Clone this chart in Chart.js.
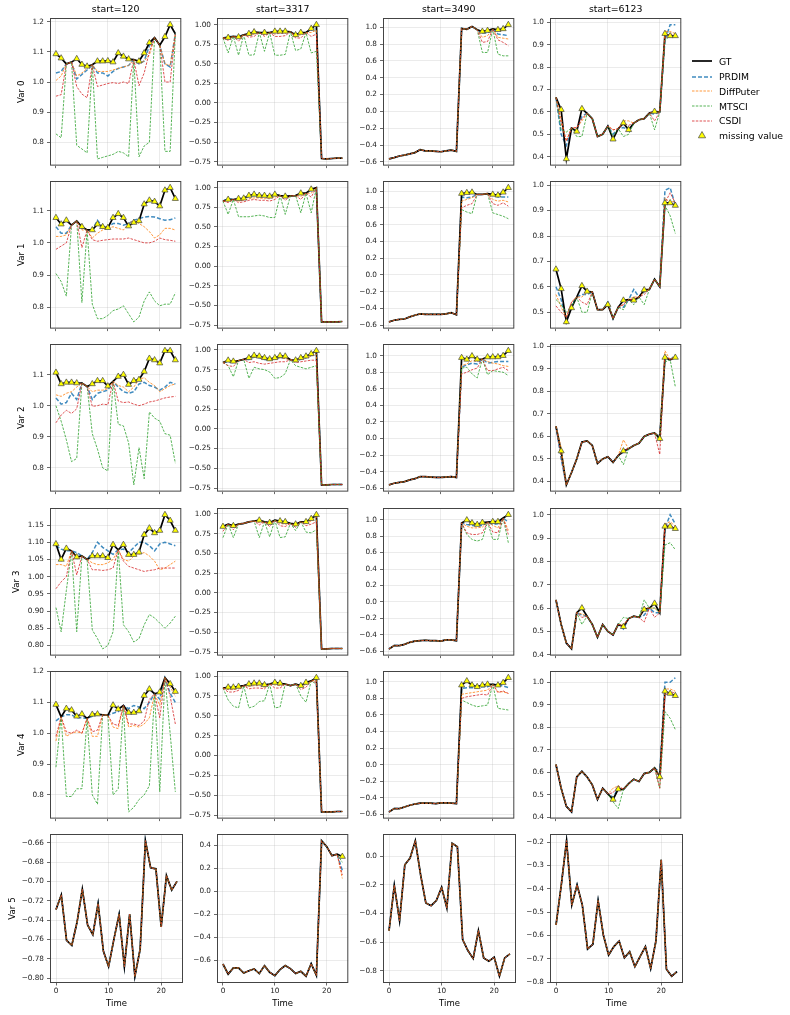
<!DOCTYPE html>
<html>
<head>
<meta charset="utf-8">
<title>Imputation comparison</title>
<script src="https://cdn.jsdelivr.net/npm/chart.js@4.4.1/dist/chart.umd.min.js"></script>
<style>
  html, body { margin: 0; padding: 0; background: #fff; }
  #fig { position: relative; width: 790px; height: 1015px; overflow: hidden; font-family: "DejaVu Sans", sans-serif; }
  #fig canvas { position: absolute; }
  .leg { position: absolute; left: 690px; height: 14px; display: flex; align-items: center; font-size: 9.3px; color: #000; white-space: nowrap; }
  .leg svg { width: 24px; height: 10px; margin-right: 5px; }
</style>
</head>
<body>
<div id="fig"></div>
<script>
// ---- data ----
const timeSteps = [0, 1, 2, 3, 4, 5, 6, 7, 8, 9, 10, 11, 12, 13, 14, 15, 16, 17, 18, 19, 20, 21, 22, 23];
const xTicks = [0, 10, 20];
const starts = [120, 3317, 3490, 6123];
const varNames = ['Var 0', 'Var 1', 'Var 2', 'Var 3', 'Var 4', 'Var 5'];
const yTickSteps = [
  [0.1, 0.25, 0.2, 0.1],
  [0.1, 0.25, 0.2, 0.1],
  [0.1, 0.25, 0.2, 0.1],
  [0.05, 0.25, 0.2, 0.1],
  [0.1, 0.25, 0.2, 0.1],
  [0.02, 0.2, 0.2, 0.1]
];

// Var 0 (one inner array per start window); imputed values are given at the missing steps only
const gtVar0 = [
  [1.093, 1.079, 1.060, 1.066, 1.077, 1.058, 1.052, 1.057, 1.069, 1.069, 1.070, 1.066, 1.096, 1.085, 1.076, 1.074, 1.069, 1.096, 1.130, 1.147, 1.122, 1.150, 1.190, 1.160],
  [0.830, 0.835, 0.850, 0.843, 0.870, 0.886, 0.907, 0.900, 0.900, 0.900, 0.915, 0.915, 0.915, 0.910, 0.870, 0.900, 0.900, 0.950, 1.000, -0.710, -0.715, -0.710, -0.705, -0.705],
  [-0.565, -0.550, -0.530, -0.520, -0.506, -0.490, -0.455, -0.470, -0.470, -0.475, -0.480, -0.470, -0.460, -0.475, 0.985, 0.975, 1.010, 0.970, 0.950, 0.960, 0.980, 0.970, 0.980, 1.030],
  [0.665, 0.610, 0.390, 0.528, 0.513, 0.614, 0.594, 0.570, 0.490, 0.500, 0.537, 0.478, 0.525, 0.550, 0.520, 0.550, 0.565, 0.570, 0.595, 0.602, 0.600, 0.950, 0.940, 0.940]
];
const missVar0 = [
  [0, 1, 4, 5, 6, 8, 9, 10, 11, 12, 13, 14, 16, 17, 18, 21, 22],
  [1, 3, 5, 6, 8, 10, 11, 12, 14, 15, 17, 18],
  [18, 19, 21, 22, 23],
  [1, 2, 4, 5, 11, 13, 14, 19, 21, 22, 23]
];
const prdimVar0 = [
  [1.030, 1.035, 1.010, 1.025, 1.040, 1.030, 1.030, 1.020, 1.035, 1.045, 1.050, 1.055, 1.060, 1.070, 1.120, 1.060, 1.050],
  [0.850, 0.850, 0.880, 0.900, 0.890, 0.900, 0.910, 0.905, 0.880, 0.890, 0.930, 0.960],
  [0.930, 0.930, 0.920, 0.910, 0.900],
  [0.500, 0.450, 0.520, 0.580, 0.500, 0.530, 0.520, 0.590, 0.920, 0.990, 0.990]
];
const diffputerVar0 = [
  [1.005, 1.020, 1.020, 1.030, 1.045, 1.035, 1.035, 1.035, 1.040, 1.045, 1.050, 1.055, 1.060, 1.070, 1.090, 1.060, 1.055],
  [0.830, 0.835, 0.860, 0.880, 0.870, 0.880, 0.890, 0.890, 0.860, 0.870, 0.900, 0.930],
  [0.880, 0.900, 0.880, 0.870, 0.860],
  [0.570, 0.470, 0.530, 0.560, 0.520, 0.560, 0.560, 0.600, 0.960, 0.960, 0.950]
];
const mtsciVar0 = [
  [0.828, 0.815, 0.790, 0.778, 0.765, 0.745, 0.750, 0.755, 0.760, 0.770, 0.765, 0.752, 0.752, 0.788, 0.800, 0.770, 0.770],
  [0.640, 0.610, 0.610, 0.615, 0.660, 0.610, 0.610, 0.620, 0.670, 0.690, 0.640, 0.660],
  [0.700, 0.700, 0.680, 0.660, 0.660],
  [0.520, 0.510, 0.490, 0.490, 0.490, 0.490, 0.500, 0.520, 0.920, 0.940, 0.940]
];
const csdiVar0 = [
  [0.953, 0.958, 0.985, 0.960, 0.948, 0.985, 0.990, 0.995, 0.998, 0.995, 1.000, 0.995, 0.988, 1.030, 1.100, 1.000, 1.000],
  [0.800, 0.790, 0.840, 0.850, 0.850, 0.850, 0.850, 0.860, 0.830, 0.830, 0.850, 0.880],
  [0.820, 0.830, 0.850, 0.820, 0.780],
  [0.550, 0.470, 0.530, 0.570, 0.520, 0.550, 0.540, 0.560, 0.930, 0.950, 0.940]
];

// Var 1
const gtVar1 = [
  [1.078, 1.058, 1.070, 1.055, 1.068, 1.050, 1.040, 1.040, 1.058, 1.050, 1.047, 1.078, 1.090, 1.078, 1.052, 1.063, 1.068, 1.120, 1.132, 1.128, 1.114, 1.163, 1.171, 1.137],
  [0.830, 0.850, 0.850, 0.860, 0.865, 0.900, 0.915, 0.900, 0.900, 0.890, 0.915, 0.900, 0.890, 0.895, 0.900, 0.930, 0.930, 0.980, 1.000, -0.710, -0.710, -0.710, -0.710, -0.705],
  [-0.560, -0.540, -0.530, -0.525, -0.500, -0.480, -0.465, -0.470, -0.470, -0.470, -0.470, -0.465, -0.450, -0.475, 0.970, 0.980, 0.985, 0.960, 0.960, 0.970, 0.960, 0.950, 0.985, 1.040],
  [0.669, 0.592, 0.462, 0.517, 0.560, 0.604, 0.582, 0.580, 0.510, 0.510, 0.530, 0.475, 0.520, 0.547, 0.550, 0.547, 0.560, 0.588, 0.590, 0.630, 0.600, 0.930, 0.930, 0.920]
];
const missVar1 = [
  [0, 1, 2, 5, 7, 8, 9, 10, 11, 12, 13, 14, 15, 16, 17, 18, 19, 20, 21, 22, 23],
  [1, 3, 4, 5, 6, 7, 8, 9, 10, 12, 15, 17],
  [14, 15, 16, 20, 21, 22, 23],
  [0, 1, 2, 3, 5, 6, 10, 13, 15, 17, 21, 22, 23]
];
const prdimVar1 = [
  [1.050, 1.030, 1.030, 1.045, 1.040, 1.070, 1.050, 1.050, 1.060, 1.060, 1.055, 1.060, 1.070, 1.075, 1.080, 1.082, 1.080, 1.075, 1.070, 1.072, 1.077],
  [0.860, 0.850, 0.860, 0.890, 0.900, 0.900, 0.890, 0.880, 0.905, 0.890, 0.920, 0.960],
  [0.930, 0.920, 0.930, 0.950, 0.930, 0.930, 0.930],
  [0.600, 0.550, 0.470, 0.530, 0.570, 0.570, 0.540, 0.520, 0.590, 0.580, 0.980, 0.990, 0.920]
];
const diffputerVar1 = [
  [1.020, 1.020, 1.025, 1.040, 1.015, 1.030, 1.040, 1.045, 1.050, 1.045, 1.040, 1.060, 1.070, 1.060, 1.050, 1.035, 1.015, 1.025, 1.045, 1.045, 1.040],
  [0.830, 0.830, 0.840, 0.860, 0.870, 0.870, 0.860, 0.860, 0.880, 0.870, 0.890, 0.930],
  [0.880, 0.900, 0.920, 0.900, 0.880, 0.890, 0.870],
  [0.570, 0.520, 0.480, 0.540, 0.560, 0.580, 0.540, 0.530, 0.560, 0.580, 0.950, 0.930, 0.940]
];
const mtsciVar1 = [
  [0.905, 0.880, 0.835, 0.815, 0.810, 0.765, 0.765, 0.775, 0.790, 0.795, 0.805, 0.780, 0.755, 0.770, 0.820, 0.848, 0.820, 0.805, 0.810, 0.810, 0.845],
  [0.660, 0.630, 0.630, 0.630, 0.640, 0.650, 0.640, 0.620, 0.620, 0.660, 0.680, 0.680],
  [0.780, 0.750, 0.730, 0.740, 0.720, 0.700, 0.670],
  [0.550, 0.530, 0.500, 0.520, 0.500, 0.500, 0.540, 0.510, 0.530, 0.530, 0.920, 0.880, 0.810]
];
const csdiVar1 = [
  [0.980, 0.990, 1.000, 0.985, 1.010, 1.005, 1.008, 1.010, 1.012, 1.012, 1.012, 1.015, 1.010, 1.005, 1.000, 1.000, 1.005, 1.015, 1.010, 1.008, 1.005],
  [0.810, 0.810, 0.820, 0.840, 0.850, 0.840, 0.840, 0.830, 0.850, 0.840, 0.850, 0.880],
  [0.800, 0.830, 0.850, 0.850, 0.830, 0.860, 0.820],
  [0.525, 0.500, 0.480, 0.540, 0.540, 0.530, 0.535, 0.530, 0.550, 0.570, 0.930, 0.970, 0.930]
];

// Var 2
const gtVar2 = [
  [1.107, 1.070, 1.075, 1.075, 1.073, 1.073, 1.062, 1.070, 1.080, 1.080, 1.063, 1.078, 1.094, 1.100, 1.068, 1.080, 1.084, 1.110, 1.152, 1.147, 1.137, 1.177, 1.177, 1.147],
  [0.840, 0.868, 0.855, 0.865, 0.880, 0.900, 0.930, 0.920, 0.900, 0.885, 0.900, 0.925, 0.920, 0.875, 0.870, 0.900, 0.920, 0.950, 0.990, -0.710, -0.710, -0.705, -0.705, -0.705],
  [-0.560, -0.540, -0.530, -0.520, -0.500, -0.485, -0.460, -0.460, -0.465, -0.470, -0.470, -0.465, -0.460, -0.470, 0.976, 0.955, 0.996, 0.956, 0.960, 0.984, 0.984, 0.985, 1.000, 1.060],
  [0.645, 0.535, 0.385, 0.440, 0.500, 0.575, 0.580, 0.560, 0.480, 0.500, 0.510, 0.485, 0.515, 0.535, 0.545, 0.560, 0.570, 0.600, 0.610, 0.615, 0.590, 0.950, 0.940, 0.950]
];
const missVar2 = [
  [0, 1, 2, 3, 4, 7, 8, 9, 10, 12, 13, 14, 15, 16, 17, 18, 19, 20, 21, 22, 23],
  [1, 2, 5, 6, 7, 8, 9, 10, 11, 12, 14, 15, 16, 17, 18],
  [14, 15, 16, 17, 19, 20, 21, 22, 23],
  [1, 13, 20, 21, 23]
];
const prdimVar2 = [
  [1.025, 1.005, 1.010, 1.040, 1.020, 1.020, 1.040, 1.045, 1.050, 1.060, 1.045, 1.040, 1.045, 1.070, 1.075, 1.065, 1.060, 1.050, 1.060, 1.075, 1.070],
  [0.850, 0.840, 0.880, 0.910, 0.900, 0.880, 0.870, 0.890, 0.900, 0.900, 0.860, 0.880, 0.900, 0.930, 0.960],
  [0.860, 0.890, 0.910, 0.900, 0.910, 0.920, 0.930, 0.930, 0.930],
  [0.500, 0.530, 0.600, 0.950, 0.960]
];
const diffputerVar2 = [
  [1.035, 1.030, 1.040, 1.045, 1.060, 1.045, 1.050, 1.050, 1.055, 1.065, 1.060, 1.045, 1.060, 1.085, 1.090, 1.075, 1.065, 1.045, 1.055, 1.065, 1.070],
  [0.860, 0.860, 0.890, 0.910, 0.900, 0.880, 0.870, 0.880, 0.900, 0.890, 0.870, 0.880, 0.900, 0.920, 0.950],
  [0.880, 0.900, 0.940, 0.930, 0.930, 0.910, 0.900, 0.880, 0.870],
  [0.550, 0.585, 0.600, 0.980, 0.960]
];
const mtsciVar2 = [
  [1.000, 0.950, 0.890, 0.820, 0.830, 0.910, 0.860, 0.800, 0.790, 0.940, 0.935, 0.880, 0.745, 0.865, 0.765, 0.980, 0.960, 0.950, 0.910, 0.905, 0.815],
  [0.800, 0.660, 0.640, 0.780, 0.760, 0.750, 0.720, 0.640, 0.650, 0.700, 0.800, 0.780, 0.760, 0.780, 0.800],
  [0.850, 0.860, 0.780, 0.730, 0.770, 0.820, 0.810, 0.800, 0.760],
  [0.520, 0.475, 0.580, 0.930, 0.820]
];
const csdiVar2 = [
  [0.945, 0.970, 0.985, 0.975, 0.990, 0.998, 1.000, 1.005, 1.003, 1.015, 1.010, 1.012, 1.005, 1.000, 1.005, 1.012, 1.015, 1.020, 1.025, 1.028, 1.030],
  [0.800, 0.790, 0.840, 0.850, 0.830, 0.820, 0.830, 0.840, 0.850, 0.850, 0.840, 0.850, 0.860, 0.870, 0.870],
  [0.780, 0.800, 0.830, 0.850, 0.820, 0.820, 0.840, 0.860, 0.820],
  [0.510, 0.540, 0.520, 0.960, 0.950]
];

// Var 3
const gtVar3 = [
  [1.095, 1.050, 1.082, 1.075, 1.057, 1.060, 1.050, 1.060, 1.060, 1.060, 1.055, 1.093, 1.078, 1.093, 1.064, 1.064, 1.071, 1.122, 1.141, 1.127, 1.134, 1.180, 1.163, 1.134],
  [0.840, 0.870, 0.850, 0.870, 0.880, 0.900, 0.910, 0.920, 0.900, 0.890, 0.920, 0.910, 0.900, 0.880, 0.870, 0.900, 0.900, 0.940, 0.990, -0.710, -0.710, -0.705, -0.705, -0.705],
  [-0.570, -0.530, -0.530, -0.515, -0.490, -0.475, -0.470, -0.465, -0.470, -0.470, -0.475, -0.460, -0.460, -0.470, 0.960, 0.995, 0.960, 0.940, 0.965, 0.970, 0.975, 0.975, 1.020, 1.060],
  [0.635, 0.530, 0.450, 0.425, 0.580, 0.600, 0.565, 0.530, 0.475, 0.530, 0.500, 0.485, 0.530, 0.520, 0.555, 0.565, 0.560, 0.594, 0.600, 0.620, 0.580, 0.950, 0.950, 0.940]
];
const missVar3 = [
  [0, 1, 2, 4, 7, 8, 9, 10, 11, 13, 14, 15, 16, 17, 18, 19, 20, 21, 22, 23],
  [0, 2, 7, 9, 11, 12, 14, 16, 17, 18],
  [15, 16, 17, 18, 20, 21, 23],
  [5, 13, 17, 19, 21, 22, 23]
];
const prdimVar3 = [
  [1.090, 1.080, 1.075, 1.070, 1.070, 1.100, 1.085, 1.075, 1.065, 1.080, 1.070, 1.085, 1.100, 1.100, 1.090, 1.075, 1.095, 1.100, 1.095, 1.090],
  [0.840, 0.850, 0.910, 0.880, 0.900, 0.890, 0.860, 0.900, 0.930, 0.980],
  [0.940, 0.930, 0.930, 0.930, 0.940, 0.950, 0.970],
  [0.570, 0.510, 0.570, 0.580, 0.940, 1.000, 0.960]
];
const diffputerVar3 = [
  [1.035, 1.035, 1.030, 1.050, 1.040, 1.035, 1.035, 1.040, 1.050, 1.050, 1.045, 1.060, 1.065, 1.070, 1.060, 1.045, 1.020, 1.025, 1.035, 1.045],
  [0.820, 0.830, 0.890, 0.870, 0.880, 0.870, 0.850, 0.880, 0.910, 0.960],
  [0.920, 0.900, 0.900, 0.910, 0.930, 0.900, 0.870],
  [0.575, 0.530, 0.600, 0.600, 0.960, 0.970, 0.950]
];
const mtsciVar3 = [
  [0.910, 0.840, 0.960, 0.840, 0.845, 0.820, 0.790, 0.800, 0.840, 0.860, 0.840, 0.810, 0.820, 0.860, 0.890, 0.880, 0.865, 0.850, 0.865, 0.885],
  [0.700, 0.700, 0.700, 0.710, 0.700, 0.710, 0.790, 0.770, 0.760, 0.800],
  [0.820, 0.760, 0.740, 0.760, 0.760, 0.760, 0.720],
  [0.530, 0.560, 0.635, 0.600, 0.870, 0.880, 0.850]
];
const csdiVar3 = [
  [0.965, 0.985, 1.000, 1.005, 1.020, 1.020, 1.018, 1.020, 1.025, 1.045, 1.030, 1.025, 1.020, 1.015, 1.018, 1.020, 1.025, 1.025, 1.025, 1.025],
  [0.780, 0.800, 0.860, 0.840, 0.850, 0.840, 0.830, 0.850, 0.870, 0.900],
  [0.840, 0.820, 0.820, 0.840, 0.850, 0.840, 0.820],
  [0.560, 0.520, 0.540, 0.560, 0.960, 0.950, 0.940]
];

// Var 4
const gtVar4 = [
  [1.093, 1.053, 1.080, 1.075, 1.055, 1.062, 1.048, 1.061, 1.062, 1.060, 1.058, 1.091, 1.078, 1.090, 1.067, 1.067, 1.072, 1.122, 1.143, 1.128, 1.133, 1.180, 1.160, 1.135],
  [0.850, 0.860, 0.860, 0.870, 0.880, 0.900, 0.910, 0.910, 0.890, 0.900, 0.920, 0.910, 0.900, 0.880, 0.900, 0.880, 0.920, 0.940, 0.980, -0.710, -0.710, -0.710, -0.705, -0.705],
  [-0.570, -0.530, -0.530, -0.510, -0.490, -0.475, -0.465, -0.465, -0.465, -0.470, -0.460, -0.460, -0.465, -0.470, 0.960, 1.010, 0.960, 0.940, 0.960, 0.970, 0.970, 0.960, 0.990, 1.050],
  [0.635, 0.530, 0.450, 0.425, 0.580, 0.605, 0.580, 0.545, 0.480, 0.530, 0.505, 0.480, 0.526, 0.525, 0.550, 0.570, 0.560, 0.595, 0.600, 0.620, 0.580, 0.960, 0.950, 0.940]
];
const missVar4 = [
  [0, 2, 3, 4, 5, 7, 8, 11, 12, 14, 15, 16, 17, 18, 20, 22, 23],
  [1, 2, 3, 5, 6, 7, 8, 10, 11, 15, 16, 18],
  [14, 15, 16, 17, 18, 19, 21, 22, 23],
  [11, 12, 20, 21, 22, 23]
];
const prdimVar4 = [
  [1.040, 1.060, 1.060, 1.050, 1.050, 1.055, 1.060, 1.065, 1.070, 1.080, 1.090, 1.085, 1.080, 1.100, 1.110, 1.130, 1.100],
  [0.850, 0.850, 0.860, 0.890, 0.900, 0.900, 0.880, 0.910, 0.900, 0.870, 0.910, 0.970],
  [0.920, 0.930, 0.930, 0.930, 0.940, 0.940, 0.960, 0.950, 0.930],
  [0.490, 0.530, 0.600, 1.000, 1.000, 1.020]
];
const diffputerVar4 = [
  [0.975, 0.990, 1.000, 1.005, 1.000, 0.990, 0.990, 1.020, 1.015, 1.020, 1.025, 1.020, 1.030, 1.050, 1.090, 1.150, 1.120],
  [0.830, 0.830, 0.840, 0.870, 0.880, 0.880, 0.860, 0.890, 0.880, 0.860, 0.890, 0.950],
  [0.850, 0.860, 0.870, 0.880, 0.890, 0.900, 0.880, 0.880, 0.860],
  [0.530, 0.540, 0.580, 0.970, 0.970, 0.960]
];
const mtsciVar4 = [
  [0.890, 0.795, 0.795, 0.820, 0.820, 0.800, 0.770, 0.800, 0.820, 0.745, 0.760, 0.785, 0.800, 0.830, 0.810, 1.000, 0.810],
  [0.700, 0.620, 0.600, 0.600, 0.620, 0.680, 0.690, 0.600, 0.610, 0.750, 0.670, 0.900],
  [0.780, 0.750, 0.720, 0.700, 0.710, 0.720, 0.680, 0.670, 0.660],
  [0.470, 0.440, 0.530, 0.870, 0.840, 0.790]
];
const csdiVar4 = [
  [0.990, 1.005, 1.000, 1.010, 1.000, 1.005, 1.010, 1.030, 1.025, 1.030, 1.030, 1.025, 1.040, 1.110, 1.050, 1.120, 1.030],
  [0.800, 0.800, 0.820, 0.840, 0.850, 0.850, 0.840, 0.850, 0.850, 0.830, 0.860, 0.920],
  [0.800, 0.820, 0.830, 0.840, 0.850, 0.840, 0.870, 0.890, 0.860],
  [0.510, 0.540, 0.530, 0.940, 0.960, 0.950]
];

// Var 5
const gtVar5 = [
  [-0.729, -0.714, -0.761, -0.766, -0.742, -0.708, -0.745, -0.755, -0.723, -0.772, -0.788, -0.760, -0.734, -0.788, -0.734, -0.798, -0.770, -0.658, -0.686, -0.687, -0.747, -0.694, -0.709, -0.700],
  [-0.632, -0.720, -0.666, -0.666, -0.710, -0.690, -0.675, -0.715, -0.646, -0.704, -0.733, -0.680, -0.646, -0.672, -0.715, -0.695, -0.738, -0.629, -0.730, 0.437, 0.386, 0.308, 0.320, 0.300],
  [-0.520, -0.204, -0.450, -0.060, -0.014, 0.107, -0.130, -0.327, -0.346, -0.310, -0.218, -0.362, 0.090, 0.065, -0.582, -0.659, -0.715, -0.520, -0.710, -0.733, -0.705, -0.838, -0.710, -0.682],
  [-0.555, -0.383, -0.194, -0.469, -0.383, -0.470, -0.658, -0.638, -0.451, -0.598, -0.684, -0.648, -0.624, -0.696, -0.670, -0.734, -0.690, -0.648, -0.742, -0.624, -0.276, -0.745, -0.775, -0.755]
];
const missVar5 = [[], [23], [], []];
const prdimVar5 = [[], [0.180], [], []];
const diffputerVar5 = [[], [0.110], [], []];
const mtsciVar5 = [[], [0.250], [], []];
const csdiVar5 = [[], [0.140], [], []];

const gtAll = [gtVar0, gtVar1, gtVar2, gtVar3, gtVar4, gtVar5];
const missAll = [missVar0, missVar1, missVar2, missVar3, missVar4, missVar5];
const prdimAll = [prdimVar0, prdimVar1, prdimVar2, prdimVar3, prdimVar4, prdimVar5];
const diffputerAll = [diffputerVar0, diffputerVar1, diffputerVar2, diffputerVar3, diffputerVar4, diffputerVar5];
const mtsciAll = [mtsciVar0, mtsciVar1, mtsciVar2, mtsciVar3, mtsciVar4, mtsciVar5];
const csdiAll = [csdiVar0, csdiVar1, csdiVar2, csdiVar3, csdiVar4, csdiVar5];

// ---- layout / style ----
Chart.defaults.font.family = "'DejaVu Sans', sans-serif";
Chart.defaults.color = '#222';

const boxLeft = [50, 217, 383, 550];
const boxTop = [18, 181, 344, 508, 671, 834];
const BOX_W = 133, BOX_H = 149, TOP_H = 18;
const yTitlePad = [17, 17, 17, 12, 17, 8]; // ylabel sits further left when tick labels are wide
const GRID = 'rgba(176,176,176,0.32)';

// order: higher is drawn first; PRDIM sits under the GT line where they agree
const methods = [
  { label: 'PRDIM', color: 'rgba(31,119,180,0.85)', width: 1.5, dash: [4, 2], order: 6 },
  { label: 'DiffPuter', color: 'rgba(255,127,14,0.8)', width: 1, dash: [2.5, 1.3], order: 3 },
  { label: 'MTSCI', color: 'rgba(44,160,44,0.8)', width: 1, dash: [2.5, 1.3], order: 2 },
  { label: 'CSDI', color: 'rgba(214,39,40,0.8)', width: 1, dash: [2.5, 1.3], order: 1 }
];

function fmtTick(v, step) {
  const dec = (String(step).split('.')[1] || '').length;
  const s = Math.abs(v) < 1e-9 ? (0).toFixed(dec) : v.toFixed(dec);
  return s.replace('-', '\u2212');
}

// matplotlib-like box around each axes
const framePlugin = {
  id: 'frame',
  afterDraw(chart) {
    const { ctx, chartArea: a } = chart;
    ctx.save();
    ctx.strokeStyle = '#444';
    ctx.lineWidth = 1;
    ctx.strokeRect(a.left + 0.5, a.top + 0.5, a.right - a.left - 1, a.bottom - a.top - 1);
    ctx.restore();
  }
};

const fig = document.getElementById('fig');

for (let r = 0; r < 6; r++) {
  for (let c = 0; c < 4; c++) {
    const gt = gtAll[r][c];
    const miss = missAll[r][c];
    const imputed = [prdimAll[r][c], diffputerAll[r][c], mtsciAll[r][c], csdiAll[r][c]];
    // each method equals the observed series except at the missing steps
    const full = imputed.map(vals => {
      const out = gt.slice();
      miss.forEach((t, k) => { out[t] = vals[k]; });
      return out;
    });

    const all = gt.concat(...full);
    let lo = Math.min(...all), hi = Math.max(...all);
    const pad = (hi - lo) * 0.05;
    lo -= pad; hi += pad;
    const step = yTickSteps[r][c];
    const yTicks = [];
    for (let k = Math.ceil(lo / step - 1e-9); k * step <= hi + 1e-9; k++) yTicks.push(+(k * step).toFixed(6));

    const yW = c === 0 ? 50 : 34;
    const xH = r === 5 ? 30 : 6;
    const canvas = document.createElement('canvas');
    canvas.width = yW + BOX_W + 3;
    canvas.height = TOP_H + BOX_H + xH;
    canvas.style.left = (boxLeft[c] - yW) + 'px';
    canvas.style.top = (boxTop[r] - TOP_H) + 'px';
    fig.appendChild(canvas);

    const toPts = arr => timeSteps.map((t, i) => ({ x: t, y: arr[i] }));
    const datasets = [
      { label: 'GT', data: toPts(gt), borderColor: '#000', borderWidth: 1.7, pointRadius: 0, order: 5 }
    ];
    methods.forEach((m, k) => {
      datasets.push({
        label: m.label, data: toPts(full[k]), borderColor: m.color, borderWidth: m.width,
        borderDash: m.dash, pointRadius: 0, order: m.order
      });
    });
    datasets.push({
      label: 'missing value',
      data: miss.map(t => ({ x: timeSteps[t], y: gt[t] })),
      showLine: false, pointStyle: 'triangle', pointRadius: 3.5,
      pointBackgroundColor: '#ffff00', pointBorderColor: '#444', pointBorderWidth: 0.7,
      order: 0, clip: false
    });

    new Chart(canvas, {
      type: 'line',
      data: { datasets },
      options: {
        responsive: false,
        animation: false,
        devicePixelRatio: 1,
        events: [],
        layout: { padding: { left: 0, right: 3, top: 0, bottom: 0 } },
        elements: { line: { tension: 0, fill: false } },
        plugins: { legend: { display: false }, tooltip: { enabled: false } },
        scales: {
          x: {
            type: 'linear', position: 'bottom', min: -1.15, max: 24.15,
            afterBuildTicks: s => { s.ticks = xTicks.map(v => ({ value: v })); },
            afterFit: s => { s.height = xH; },
            ticks: { display: r === 5, font: { size: 7.3 }, color: '#222', padding: 1, maxRotation: 0 },
            grid: { color: GRID, lineWidth: 0.8, drawTicks: true, tickLength: 2.5, tickColor: '#444', tickWidth: 0.8 },
            border: { display: false },
            title: { display: r === 5, text: 'Time', font: { size: 8.5 }, color: '#000', padding: { top: 0, bottom: 4 } }
          },
          head: {
            type: 'linear', position: 'top',
            afterFit: s => { s.height = TOP_H; },
            ticks: { display: false },
            grid: { display: false, drawTicks: false },
            border: { display: false },
            title: { display: r === 0, text: 'start=' + starts[c], font: { size: 9.4 }, color: '#000', padding: { top: 4.4, bottom: 0 } }
          },
          y: {
            type: 'linear', position: 'left', min: lo, max: hi,
            afterBuildTicks: s => { s.ticks = yTicks.map(v => ({ value: v })); },
            afterFit: s => { s.width = yW; },
            ticks: { font: { size: 7.3 }, color: '#222', padding: 3, callback: v => fmtTick(v, step) },
            grid: { color: GRID, lineWidth: 0.8, drawTicks: true, tickLength: 3, tickColor: '#444', tickWidth: 0.8 },
            border: { display: false },
            title: { display: c === 0, text: varNames[r], font: { size: 8.7 }, color: '#000', padding: { top: yTitlePad[r], bottom: 0 } }
          }
        }
      },
      plugins: [framePlugin]
    });
  }
}

// ---- figure legend ----
const legendItems = [
  { label: 'GT', svg: '<line x1="2" y1="5" x2="22" y2="5" stroke="#000" stroke-width="1.7"/>' },
  { label: 'PRDIM', svg: '<line x1="2" y1="5" x2="22" y2="5" stroke="rgba(31,119,180,0.85)" stroke-width="1.5" stroke-dasharray="4 2"/>' },
  { label: 'DiffPuter', svg: '<line x1="2" y1="5" x2="22" y2="5" stroke="rgba(255,127,14,0.8)" stroke-width="1" stroke-dasharray="2.5 1.3"/>' },
  { label: 'MTSCI', svg: '<line x1="2" y1="5" x2="22" y2="5" stroke="rgba(44,160,44,0.8)" stroke-width="1" stroke-dasharray="2.5 1.3"/>' },
  { label: 'CSDI', svg: '<line x1="2" y1="5" x2="22" y2="5" stroke="rgba(214,39,40,0.8)" stroke-width="1" stroke-dasharray="2.5 1.3"/>' },
  { label: 'missing value', svg: '<polygon points="12,1.5 15.6,7.8 8.4,7.8" fill="#ffff00" stroke="#444" stroke-width="0.7"/>' }
];
const legendTop = [54, 69.7, 84.3, 99, 113.7, 128.4];
legendItems.forEach((it, i) => {
  const div = document.createElement('div');
  div.className = 'leg';
  div.style.top = legendTop[i] + 'px';
  div.innerHTML = '<svg viewBox="0 0 24 10">' + it.svg + '</svg><span>' + it.label + '</span>';
  fig.appendChild(div);
});
</script>
</body>
</html>
